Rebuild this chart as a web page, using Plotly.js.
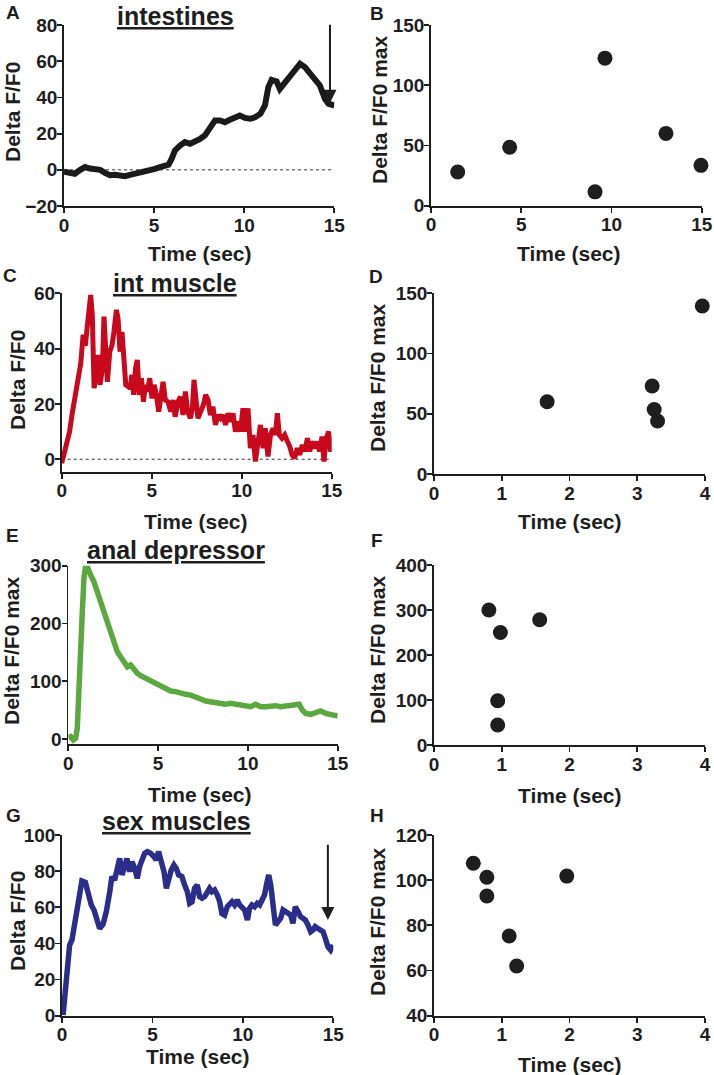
<!DOCTYPE html>
<html>
<head>
<meta charset="utf-8">
<script src="https://cdn.plot.ly/plotly-3.0.1.min.js"></script>
<style>html,body{margin:0;padding:0;background:#fff;}#chart{width:714px;height:1075px;}</style>
</head>
<body>
<div id="chart"></div>
<script>
// ---------- DATA ----------
// A: intestines trace
const tA = [0,0.33,0.6,0.9,1.17,1.44,1.72,2.0,2.27,2.55,2.83,3.1,3.38,3.66,3.94,4.2,4.5,4.77,5.05,5.33,5.6,5.8,5.97,6.16,6.44,6.71,7.0,7.27,7.55,7.82,8.1,8.38,8.66,8.93,9.2,9.49,9.76,10.04,10.32,10.6,10.9,11.15,11.34,11.52,11.8,11.98,12.26,12.54,12.82,13.1,13.37,13.65,13.93,14.2,14.48,14.67,15];
const vA = [-1,-1.3,-2.2,0,1.5,0.7,0.5,0,-1.7,-3,-2.8,-3.3,-3.5,-2.8,-2.2,-1.8,-1,0,0.5,1.5,2.4,2.8,6,10.7,13.4,15.3,14.4,15.3,17,19,23.6,27.3,27.3,26.3,27.6,28.5,30,28.7,28.2,29,31,35.5,45.7,49.7,48.8,44.7,48.4,51.6,54.9,58.6,56.7,53,50.3,46.6,39.2,36.5,35.5];

// B: intestines peak values
const tB = [1.48,4.36,9.09,9.64,13.02,14.96];
const vB = [28,48.5,11.5,122.5,60,33.5];

// C: int muscle trace
const tC = [0,0.17,0.31,0.44,0.57,0.69,0.81,0.94,1.06,1.19,1.31,1.43,1.52,1.61,1.7,1.8,1.93,2.02,2.13,2.26,2.35,2.44,2.54,2.67,2.8,2.9,3.04,3.13,3.24,3.35,3.46,3.56,3.69,3.8,3.9,4.0,4.1,4.2,4.31,4.43,4.54,4.65,4.76,4.89,5.02,5.13,5.26,5.39,5.5,5.63,5.76,5.9,6.06,6.19,6.3,6.46,6.6,6.74,6.87,7.0,7.15,7.26,7.35,7.46,7.57,7.72,7.87,8.0,8.13,8.26,8.4,8.54,8.69,8.83,8.96,9.1,9.24,9.39,9.52,9.65,9.8,9.93,10.07,10.2,10.35,10.48,10.63,10.76,10.9,11.04,11.19,11.31,11.46,11.6,11.74,11.87,11.98,12.09,12.24,12.39,12.54,12.67,12.8,12.94,13.09,13.22,13.37,13.5,13.65,13.78,13.9,14.06,14.2,14.33,14.46,14.57,14.7,14.83,14.94,15];
const vC = [-1.4,2.8,6.4,10,16,20.8,24.5,28,34.7,45,41,48.6,55.8,59.4,52,25.7,31.7,37.7,26.9,32.9,51.6,41.3,28,38.9,41.3,46,54,51,38.9,46,37.7,26.9,26.3,25.7,30.5,23.3,32.9,35.9,23.3,29.3,20.8,26.9,24.5,29.3,22,26.9,23.3,17.2,22,28,21.4,20.8,17.2,21.4,15.4,20.8,22.6,16,24.5,17.2,14.8,18.4,28.7,22,14.8,17.2,19.6,23.3,21.4,16,19,12.4,16,14.8,16,12.4,16.6,13.6,16.6,10,13.6,10,18.4,10,18.4,4,8.8,-0.8,6.4,12.4,4,11.2,1,8.8,11.2,8.8,16.6,8.8,7.6,8.8,6.4,4.6,1.6,0.4,4,1.6,5.2,2.8,7.6,2.8,6.4,4,6.4,2.8,8.2,-0.8,7.6,10,2.8,4];

// D: int muscle peak values
const tD = [1.67,3.22,3.25,3.30,3.96];
const vD = [60,73,53.5,44,139.5];

// E: anal depressor trace
const tE = [0,0.13,0.28,0.41,0.5,0.59,0.69,0.78,0.87,0.97,1.06,1.15,1.24,1.43,1.61,1.8,1.99,2.17,2.36,2.54,2.73,2.91,3.1,3.29,3.47,3.66,3.84,4.03,4.31,4.59,4.86,5.14,5.42,5.7,5.98,6.26,6.53,6.81,7.09,7.37,7.65,7.93,8.2,8.48,8.76,9.04,9.32,9.6,9.88,10.15,10.43,10.71,10.99,11.27,11.55,11.82,12.1,12.38,12.66,12.85,13.03,13.22,13.5,13.77,14.05,14.33,14.61,14.89,15];
const vE = [2.3,4,-1.7,1.2,18.5,70,145,220,278,301,298,293,284,272,255,238,215,197,180,166,151,142.5,134,125,128,119.5,113.7,109.6,105,99,96.4,90.6,87.7,83,82,79,77.3,76,71.5,69.2,65.8,64.6,61.7,61.7,60,61.7,60,58.8,57.7,56,60,56,56,57.7,57.7,56,57.7,57.7,58.8,60,50.2,44.4,42.7,44.4,48.5,44.4,41.5,38.7,39.8];

// F: anal depressor peak values
const tF = [0.81,0.98,1.56,0.94,0.94];
const vF = [300,250,278.5,98.5,44.5];

// G: sex muscles trace
const tG = [0.06,0.18,0.29,0.42,0.55,0.7,0.85,0.98,1.1,1.29,1.47,1.62,1.77,1.95,2.08,2.27,2.45,2.64,2.76,2.91,3.06,3.19,3.32,3.46,3.59,3.74,3.87,4.02,4.16,4.29,4.42,4.57,4.72,4.9,5.09,5.21,5.34,5.49,5.64,5.77,5.9,6.04,6.19,6.32,6.45,6.63,6.78,6.93,7.06,7.19,7.33,7.48,7.61,7.74,7.89,8.03,8.16,8.29,8.44,8.59,8.72,8.84,8.99,9.14,9.27,9.4,9.54,9.69,9.82,9.95,10.1,10.25,10.37,10.5,10.65,10.8,10.93,11.06,11.2,11.3,11.43,11.54,11.66,11.8,11.94,12.09,12.22,12.35,12.49,12.64,12.77,12.9,13.05,13.19,13.32,13.45,13.6,13.75,13.88,14.0,14.15,14.3,14.43,14.56,14.7,14.85,15];
const vG = [0.4,13.3,24.4,39,41.9,52,61.3,70.5,74.5,73.8,66.8,61.3,58.5,52,48.3,50.6,57.6,68.6,77,75,83.4,87,77.9,83.4,87,79.7,85.2,81.5,76,82.5,86.2,89.9,90.8,89.9,88,86.2,90.8,86.2,79.7,70.5,76,80.6,83.4,81.5,77.9,77,72.3,68.6,62.2,63,70.5,72.3,65.9,65,65.9,67.7,70.5,68.6,69.6,66.8,63.1,56.6,55.7,60.3,61.3,63.1,61.3,64,61.3,59.4,58.5,53,59.4,61.3,60.3,62.2,61.3,64,66.8,72.3,77.9,72.3,63.1,50.2,52,53.9,58.5,57.6,56.6,55.7,51.1,60.3,57.6,54.8,53.9,53,50.2,46.5,47.4,49.3,48.3,47.4,46.5,42.8,38.2,36.3,39.1];

// H: sex muscles peak values
const tH = [0.58,0.78,0.78,1.11,1.22,1.96];
const vH = [107.5,101.3,93,75.3,62,101.8];

// Arrows (time, start value, tip value)
const arrowA = [14.76, 81, 37];
const arrowG = [14.7, 95.5, 53];

const panelTitles = ['intestines','int muscle','anal depressor','sex muscles'];
const panelLetters = ['A','B','C','D','E','F','G','H'];
const yTitles = ['Delta F/F0','Delta F/F0 max','Delta F/F0','Delta F/F0 max','Delta F/F0 max','Delta F/F0 max','Delta F/F0','Delta F/F0 max'];
const xTitle = 'Time (sec)';

// ---------- LAYOUT ----------
const W = 714, H = 1075;
const FONT = 'Liberation Sans, Arial, Helvetica, sans-serif';
const INK = '#1e1e1e';

const panels = [
  {xpx:[64,334.3],  ypx:[25,206],      xr:[0,15], yr:[-20,80],  xt:[0,5,10,15], yt:[-20,0,20,40,60,80]},
  {xpx:[431,701.7], ypx:[25,205.7],    xr:[0,15], yr:[0,150],   xt:[0,5,10,15], yt:[0,50,100,150]},
  {xpx:[61.7,331.7],ypx:[293.3,471.7], xr:[0,15], yr:[-4.5,60], xt:[0,5,10,15], yt:[0,20,40,60]},
  {xpx:[434,705],   ypx:[293.3,474],   xr:[0,4],  yr:[0,150],   xt:[0,1,2,3,4], yt:[0,50,100,150]},
  {xpx:[68.3,337.7],ypx:[565.7,744.3], xr:[0,15], yr:[-9.2,300],xt:[0,5,10,15], yt:[0,100,200,300]},
  {xpx:[434,705],   ypx:[565,745],     xr:[0,4],  yr:[0,400],   xt:[0,1,2,3,4], yt:[0,100,200,300,400]},
  {xpx:[62,333.3],  ypx:[835,1015.7],  xr:[0,15], yr:[0,100],   xt:[0,5,10,15], yt:[0,20,40,60,80,100]},
  {xpx:[434,705],   ypx:[835,1015.7],  xr:[0,4],  yr:[40,120],  xt:[0,1,2,3,4], yt:[40,60,80,100,120]}
];

const layout = {
  width: W, height: H,
  margin: {l:0, r:0, t:0, b:0},
  paper_bgcolor: '#fff', plot_bgcolor: '#fff',
  showlegend: false,
  font: {family: FONT, color: INK},
  annotations: [], shapes: []
};

panels.forEach((p, i) => {
  const n = i === 0 ? '' : String(i + 1);
  const common = {
    showline: true, linecolor: INK, linewidth: 1.8,
    ticks: 'outside', ticklen: 5, tickwidth: 1.8, tickcolor: INK,
    showgrid: false, zeroline: false, fixedrange: true,
    tickfont: {family: FONT, size: 19, color: INK, weight: 'bold'},
    tickmode: 'array', ticklabelstandoff: -4
  };
  layout['xaxis' + n] = Object.assign({}, common, {
    domain: [p.xpx[0] / W, p.xpx[1] / W], range: p.xr, tickvals: p.xt,
    anchor: 'y' + n
  });
  layout['yaxis' + n] = Object.assign({}, common, {
    domain: [1 - p.ypx[1] / H, 1 - p.ypx[0] / H], range: p.yr, tickvals: p.yt,
    anchor: 'x' + n
  });
});

// axis title positions (pixels)
const yTitlePos = [[13,112],[379,110],[17,380],[377,378],[11,651],[377,650],[17,921],[377,922]];
const xTitlePos = [[200,254],[569,254],[196,521],[570,521],[200,794],[570,795],[198,1056],[570,1064]];
const letterPos = [[13,12],[377,13],[10,275],[376,276],[12,536],[377,540],[13,815],[377,815]];
const titlePos = [[175,16],[175,283],[176,550],[176,821]];

function ann(px, py, text, size, extra) {
  return Object.assign({
    xref: 'paper', yref: 'paper', x: px / W, y: 1 - py / H,
    xanchor: 'center', yanchor: 'middle', showarrow: false,
    text: text, font: {family: FONT, size: size, color: INK, weight: 'bold'}
  }, extra || {});
}

yTitles.forEach((t, i) => layout.annotations.push(ann(yTitlePos[i][0], yTitlePos[i][1], t, 21, {textangle: -90})));
panels.forEach((p, i) => layout.annotations.push(ann(xTitlePos[i][0], xTitlePos[i][1], xTitle, 21)));
panelLetters.forEach((t, i) => layout.annotations.push(ann(letterPos[i][0], letterPos[i][1], t, 19)));
panelTitles.forEach((t, i) => layout.annotations.push(ann(titlePos[i][0], titlePos[i][1], '<u>' + t + '</u>', 25)));

// arrows
[[arrowA, ''], [arrowG, '7']].forEach(([a, n]) => {
  layout.annotations.push({
    xref: 'x' + n, yref: 'y' + n, axref: 'x' + n, ayref: 'y' + n,
    x: a[0], y: a[2], ax: a[0], ay: a[1], text: '', showarrow: true,
    arrowhead: 2, arrowsize: 1.3, arrowwidth: 2, arrowcolor: INK, standoff: 0
  });
});

// dotted zero lines for A and C
[['', 15], ['3', 15]].forEach(([n, xmax]) => {
  layout.shapes.push({
    type: 'line', xref: 'x' + n, yref: 'y' + n, x0: 0, x1: xmax, y0: 0, y1: 0,
    line: {color: '#333', width: 1, dash: 'dot'}, layer: 'below'
  });
});

function lineTrace(x, y, n, color, w) {
  return {x: x, y: y, xaxis: 'x' + n, yaxis: 'y' + n, type: 'scatter', mode: 'lines',
    line: {color: color, width: w, shape: 'linear'}, cliponaxis: false, hoverinfo: 'skip'};
}
function dotTrace(x, y, n) {
  return {x: x, y: y, xaxis: 'x' + n, yaxis: 'y' + n, type: 'scatter', mode: 'markers',
    marker: {color: INK, size: 15}, cliponaxis: false, hoverinfo: 'skip'};
}

const data = [
  lineTrace(tA, vA, '', '#1a1a1a', 6),
  dotTrace(tB, vB, '2'),
  lineTrace(tC, vC, '3', '#c8091d', 5),
  dotTrace(tD, vD, '4'),
  lineTrace(tE, vE, '5', '#5aa83f', 5.5),
  dotTrace(tF, vF, '6'),
  lineTrace(tG, vG, '7', '#2b2d8a', 5.5),
  dotTrace(tH, vH, '8')
];

Plotly.newPlot('chart', data, layout, {staticPlot: true, displayModeBar: false});
</script>
</body>
</html>
